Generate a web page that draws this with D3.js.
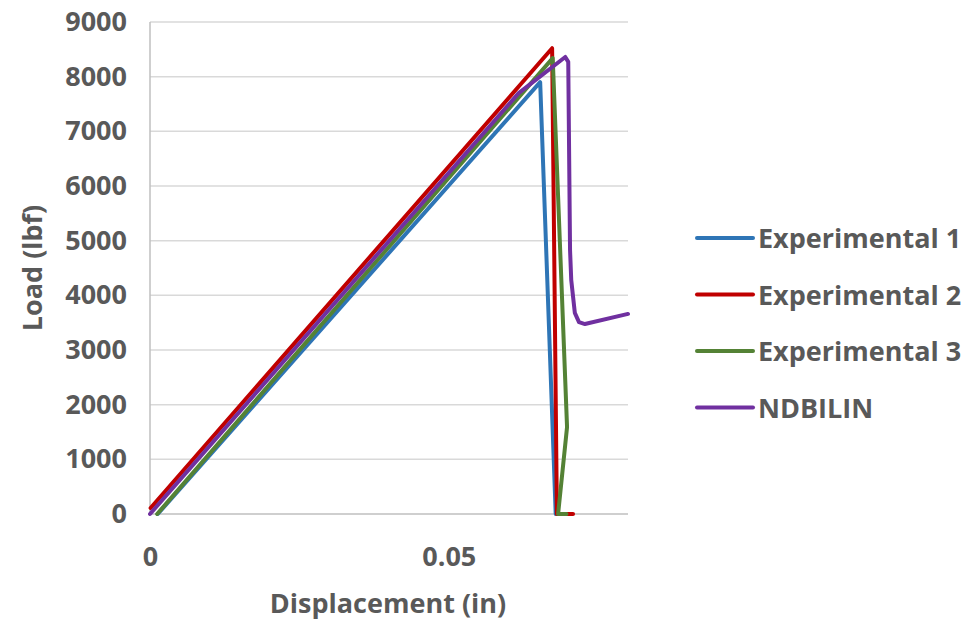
<!DOCTYPE html>
<html>
<head>
  <meta charset="utf-8">
  <title>Load vs Displacement</title>
  <style>
    body { margin: 0; background: #fff; }
    svg text { font-family: "Open Sans", sans-serif; font-weight: bold; fill: #595959; }
    .grid line { stroke: #d9d9d9; stroke-width: 1.5px; }
  </style>
</head>
<body>
  <div id="chart"></div>

  <script src="https://d3js.org/d3.v7.min.js"></script>
  <script>
    // series: [displacement (in), load (lbf)]
    const exp1 = [[0.0013, 0], [0.0653, 7900], [0.0679, 0]];
    const exp2 = [[0.0001, 110], [0.0673, 8520], [0.0681, 0], [0.0708, 0]];
    const exp3 = [[0.0012, 0], [0.0674, 8340], [0.0698, 1590], [0.0683, 0], [0.0697, 0]];
    const ndbilin = [[0, 0], [0.0617, 7700], [0.0695, 8360], [0.0700, 8270], [0.0703, 4830],
      [0.0705, 4280], [0.0711, 3680], [0.0718, 3510], [0.0728, 3475], [0.0800, 3660]];

    const seriesNames = ["Experimental 1", "Experimental 2", "Experimental 3", "NDBILIN"];
    const seriesColors = ["#2e75b6", "#c00000", "#548235", "#7030a0"];
    const seriesData = [exp1, exp2, exp3, ndbilin];

    const yTicks = [0, 1000, 2000, 3000, 4000, 5000, 6000, 7000, 8000, 9000];
    const xTicks = [0, 0.05];

    const width = 966, height = 620;
    const plot = { left: 150, right: 628, top: 22, bottom: 514 };
    const fontSize = "27px";

    const svg = d3.select("#chart").append("svg")
      .attr("width", width)
      .attr("height", height);

    const x = d3.scaleLinear().domain([0, 0.08]).range([plot.left, plot.right]);
    const y = d3.scaleLinear().domain([0, 9000]).range([plot.bottom, plot.top]);

    // horizontal gridlines
    svg.append("g")
      .attr("class", "grid")
      .selectAll("line")
      .data(yTicks.slice(1))
      .join("line")
      .attr("x1", plot.left)
      .attr("x2", plot.right)
      .attr("y1", d => y(d))
      .attr("y2", d => y(d));

    // axis lines
    svg.append("line")
      .attr("x1", plot.left).attr("x2", plot.left)
      .attr("y1", plot.top).attr("y2", plot.bottom)
      .style("stroke", "#bfbfbf").style("stroke-width", "1.5px");
    svg.append("line")
      .attr("x1", plot.left).attr("x2", plot.right)
      .attr("y1", plot.bottom).attr("y2", plot.bottom)
      .style("stroke", "#bfbfbf").style("stroke-width", "1.5px");

    const yAxis = svg.append("g")
      .attr("transform", `translate(${plot.left - 20},0)`)
      .call(d3.axisLeft(y).tickValues(yTicks).tickSize(0).tickFormat(d3.format("d")));
    yAxis.select(".domain").remove();
    yAxis.selectAll("text")
      .style("font-size", fontSize)
      .style("font-family", "'Open Sans', sans-serif")
      .attr("fill", "#595959");

    const xAxis = svg.append("g")
      .attr("transform", `translate(0,${plot.bottom + 30})`)
      .call(d3.axisBottom(x).tickValues(xTicks).tickSize(0).tickFormat(d => d === 0 ? "0" : d3.format(".2f")(d)));
    xAxis.select(".domain").remove();
    xAxis.selectAll("text")
      .style("font-size", fontSize)
      .style("font-family", "'Open Sans', sans-serif")
      .attr("fill", "#595959");

    // axis titles
    svg.append("text")
      .attr("x", 388)
      .attr("y", 613)
      .attr("text-anchor", "middle")
      .style("font-size", fontSize)
      .text("Displacement (in)");

    svg.append("text")
      .attr("transform", "translate(42,268) rotate(-90)")
      .attr("text-anchor", "middle")
      .style("font-size", fontSize)
      .text("Load (lbf)");

    // lines
    const line = d3.line()
      .x(d => x(d[0]))
      .y(d => y(d[1]));

    svg.append("g")
      .selectAll("path")
      .data(seriesData)
      .join("path")
      .attr("d", line)
      .style("fill", "none")
      .style("stroke", (d, i) => seriesColors[i])
      .style("stroke-width", "4px")
      .style("stroke-linejoin", "round")
      .style("stroke-linecap", "round");

    // legend
    const legend = svg.append("g");
    seriesNames.forEach((name, i) => {
      const ly = 238 + i * 56.5;
      legend.append("line")
        .attr("x1", 697).attr("x2", 753)
        .attr("y1", ly).attr("y2", ly)
        .style("stroke", seriesColors[i])
        .style("stroke-width", "4px")
        .style("stroke-linecap", "round");
      legend.append("text")
        .attr("x", 758)
        .attr("y", ly + 10)
        .style("font-size", fontSize)
        .text(name);
    });
  </script>
</body>
</html>
